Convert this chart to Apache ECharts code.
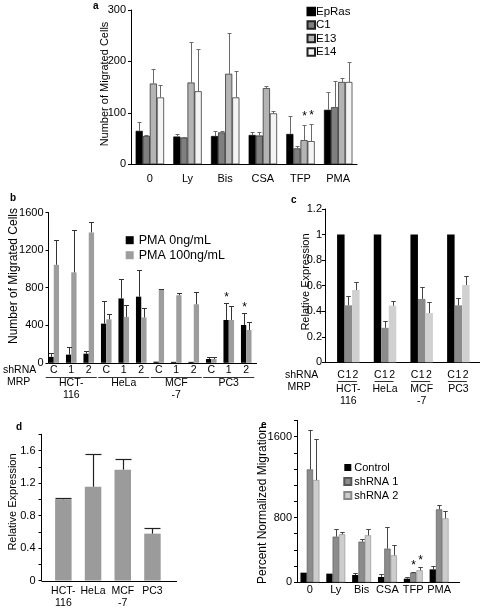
<!DOCTYPE html>
<html><head><meta charset="utf-8">
<script src="https://cdn.jsdelivr.net/npm/echarts@6/dist/echarts.min.js"></script>
<style>html,body{margin:0;padding:0;background:#fff}#c{width:484px;height:610px}</style>
</head><body><div id="c"></div>
<script>
// ---------- Panel a ----------
const aCategories = ['0', 'Ly', 'Bis', 'CSA', 'TFP', 'PMA'];
const aSeriesNames = ['EpRas', 'C1', 'E13', 'E14'];
const aEpRas = [65, 54, 55, 57, 59, 106];
const aC1 = [55, 52, 62, 56, 31, 111];
const aE13 = [157, 159, 176, 148, 47, 160];
const aE14 = [130, 142, 130, 99, 45, 160];
const aErrEpRas = [17, 4, 10, 5, 34, 34];
const aErrC1 = [2, 2, 3, 7, 5, 51];
const aErrE13 = [28, 78, 79, 4, 30, 7];
const aErrE14 = [25, 83, 52, 5, 33, 38];
const aStarE13 = [0, 0, 0, 0, 1, 0];
const aStarE14 = [0, 0, 0, 0, 1, 0];

// ---------- Panel b ----------
const bCellLines = ['HCT-\n116', 'HeLa', 'MCF\n-7', 'PC3'];
const bShRNA = ['C', '1', '2'];
const bSeriesNames = ['PMA 0ng/mL', 'PMA 100ng/mL'];
const bPMA0 = [63, 87, 97, 417, 685, 704, 12, 10, 10, 40, 456, 403];
const bPMA100 = [1043, 963, 1388, 463, 488, 483, 783, 719, 623, 40, 456, 349];
const bErrPMA0 = [41, 80, 25, 244, 212, 284, 0, 0, 0, 25, 177, 131];
const bErrPMA100 = [261, 456, 115, 59, 124, 100, 5, 27, 128, 25, 152, 86];
const bStarPMA0 = [0, 0, 0, 0, 0, 0, 0, 0, 0, 0, 1, 1];

// ---------- Panel c ----------
const cCellLines = ['HCT-\n116', 'HeLa', 'MCF\n-7', 'PC3'];
const cSeriesNames = ['C', '1', '2'];
const cC = [1, 1, 1, 1];
const c1 = [0.446, 0.27, 0.496, 0.446];
const c2 = [0.566, 0.443, 0.386, 0.605];
const cErr1 = [0.074, 0.056, 0.096, 0.06];
const cErr2 = [0.064, 0.04, 0.089, 0.071];

// ---------- Panel d ----------
const dCellLines = ['HCT-\n116', 'HeLa', 'MCF\n-7', 'PC3'];
const dValues = [1.0, 1.155, 1.365, 0.577];
const dErr = [0.01, 0.4, 0.128, 0.075];

// ---------- Panel e ----------
const eCategories = ['0', 'Ly', 'Bis', 'CSA', 'TFP', 'PMA'];
const eSeriesNames = ['Control', 'shRNA 1', 'shRNA 2'];
const eControl = [119, 107, 90, 66, 45, 160];
const eSh1 = [1395, 564, 502, 416, 119, 901];
const eSh2 = [1263, 593, 580, 333, 148, 790];
const eErrControl = [0, 0, 21, 33, 25, 42];
const eErrSh1 = [485, 94, 33, 271, 9, 54];
const eErrSh2 = [502, 24, 74, 128, 45, 95];
const eStarSh1 = [0, 0, 0, 0, 1, 0];
const eStarSh2 = [0, 0, 0, 0, 1, 0];
const eTickValues = [0, 800, 1800];
const eTickLabels = ['0', '800', '1600'];

const FONT = 'Liberation Sans, Arial, sans-serif';
const chart = echarts.init(document.getElementById('c'), null, {renderer: 'canvas'});

function bar(gi, name, data, color, barW, border) {
  return {
    type: 'bar', name, xAxisIndex: gi, yAxisIndex: gi, data, barWidth: barW, barGap: '0%',
    silent: true,
    itemStyle: {color, borderColor: border ? border[0] : color, borderWidth: border ? border[1] : 0}
  };
}
function err(gi, values, errs, stars, sIdx, n, barW, st) {
  const data = values.map((v, i) => [i, v, v + errs[i], errs[i], stars ? stars[i] : 0]);
  return {
    type: 'custom', xAxisIndex: gi, yAxisIndex: gi, data, z: 5, silent: true, clip: false,
    encode: {x: 0, y: [1, 2]},
    renderItem(params, api) {
      const i = api.value(0), v = api.value(1), up = api.value(2), e = api.value(3), s = api.value(4);
      const b = api.coord([i, v]), t = api.coord([i, up]);
      const x = Math.round(b[0] + (sIdx - (n - 1) / 2) * barW) + 0.5;
      const ty = Math.round(t[1]) + 0.5;
      const ch = [];
      if (e > 0) {
        ch.push({type: 'line', shape: {x1: x, y1: b[1], x2: x, y2: ty}, style: {stroke: st.color, lineWidth: st.lw}});
        ch.push({type: 'line', shape: {x1: x - st.cap / 2, y1: ty, x2: x + st.cap / 2, y2: ty}, style: {stroke: st.color, lineWidth: st.lw}});
      }
      if (s) {
        ch.push({type: 'text', x: x, y: ty - st.starGap, style: {text: '*', textAlign: 'center', textVerticalAlign: 'middle', font: '12px ' + FONT, fill: '#000'}});
      }
      return {type: 'group', children: ch};
    }
  };
}

const axLabel = {color: '#000', fontFamily: FONT, fontSize: 11};
function yAx(gi, max, interval, extra) {
  return Object.assign({
    gridIndex: gi, type: 'value', min: 0, max, interval,
    axisLine: {show: true, lineStyle: {color: '#000', width: 1}},
    axisTick: {show: true, length: 3, lineStyle: {color: '#000'}},
    splitLine: {show: false},
    axisLabel: Object.assign({}, axLabel, {margin: 5, formatter: v => String(v)})
  }, extra || {});
}
function xAx(gi, data, extra) {
  return Object.assign({
    gridIndex: gi, type: 'category', data,
    axisLine: {show: false}, axisTick: {show: false},
    axisLabel: Object.assign({}, axLabel, {interval: 0})
  }, extra || {});
}

const bCats = bPMA0.map((_, i) => bCellLines[Math.floor(i / 3)] + ' ' + bShRNA[i % 3]);

const aErrSt = {color: '#6a6a6a', lw: 1, cap: 4, starGap: 9};
const bErrSt = {color: '#333', lw: 1, cap: 5, starGap: 6};
const cErrSt = {color: '#444', lw: 1, cap: 4.5, starGap: 6};
const dErrSt = {color: '#222', lw: 1.2, cap: 16, starGap: 6};
const eErrSt = {color: '#444', lw: 1, cap: 4.5, starGap: 7};

const option = {
  animation: false,
  backgroundColor: '#fff',
  textStyle: {fontFamily: FONT},
  grid: [
    {left: 131, top: 10, width: 226, height: 154.3, outerBoundsMode: 'none'},
    {left: 45, top: 212.5, width: 210, height: 150.3, outerBoundsMode: 'none'},
    {left: 330, top: 209, width: 146.7, height: 153.3, outerBoundsMode: 'none'},
    {left: 48.5, top: 434.3, width: 118.8, height: 146.2, outerBoundsMode: 'none'},
    {left: 297, top: 420.4, width: 155, height: 161.9, outerBoundsMode: 'none'}
  ],
  xAxis: [
    xAx(0, aCategories, {axisLine: {show: true, lineStyle: {color: '#000'}}, axisLabel: Object.assign({}, axLabel, {interval: 0, margin: 9})}),
    xAx(1, bCats, {axisLabel: Object.assign({}, axLabel, {interval: 0, margin: 2, fontSize: 10.5, formatter: (v, i) => bShRNA[i % 3]})}),
    xAx(2, cCellLines, {axisLabel: Object.assign({}, axLabel, {interval: 0, margin: 21.5, fontSize: 10.5, lineHeight: 11.6})}),
    xAx(3, dCellLines, {axisLabel: Object.assign({}, axLabel, {interval: 0, margin: 4.5, fontSize: 10.5, lineHeight: 12.3})}),
    xAx(4, eCategories, {axisLabel: Object.assign({}, axLabel, {interval: 0, margin: 2.5})})
  ],
  yAxis: [
    yAx(0, 300, 100),
    yAx(1, 1600, 400, {offset: -3.5}),
    yAx(2, 1.2, 0.2, {offset: 5, axisLabel: Object.assign({}, axLabel, {margin: 3, formatter: v => String(+v.toFixed(1))})}),
    yAx(3, 1.8, 0.2, {offset: 7, axisLabel: Object.assign({}, axLabel, {margin: 6,
      formatter: v => (Math.round(v * 10) % 4 === 0 ? String(+v.toFixed(1)) : '')})}),
    yAx(4, 2000, 200, {axisLabel: Object.assign({}, axLabel, {margin: 5,
      formatter: v => { const k = eTickValues.indexOf(Math.round(v)); return k >= 0 ? eTickLabels[k] : ''; }})})
  ],
  legend: [
    {data: aSeriesNames, orient: 'vertical', left: 301.5, top: 0.5, itemWidth: 7.5, itemHeight: 7.5, itemGap: 1.5,
      icon: 'rect', selectedMode: false, textStyle: {fontSize: 11.5, color: '#000', fontFamily: FONT, padding: [0, 0, 0, -4]}},
    {data: bSeriesNames, orient: 'vertical', left: 120.7, top: 228.7, itemWidth: 8, itemHeight: 8, itemGap: 2,
      icon: 'rect', selectedMode: false, textStyle: {fontSize: 12.5, color: '#000', fontFamily: FONT}},
    {data: eSeriesNames, orient: 'vertical', left: 338.3, top: 457, itemWidth: 7, itemHeight: 7, itemGap: 3,
      icon: 'rect', selectedMode: false, textStyle: {fontSize: 11, color: '#000', fontFamily: FONT, padding: [0, 0, 0, -2]}}
  ],
  series: [
    bar(0, aSeriesNames[0], aEpRas, '#000000', 7.1, ['#000', 0.7]),
    bar(0, aSeriesNames[1], aC1, '#7f7f7f', 7.1, ['#222', 0.7]),
    bar(0, aSeriesNames[2], aE13, '#b4b4b4', 7.1, ['#222', 0.7]),
    bar(0, aSeriesNames[3], aE14, '#f4f4f4', 7.1, ['#222', 0.7]),
    err(0, aEpRas, aErrEpRas, null, 0, 4, 7.1, aErrSt),
    err(0, aC1, aErrC1, null, 1, 4, 7.1, aErrSt),
    err(0, aE13, aErrE13, aStarE13, 2, 4, 7.1, aErrSt),
    err(0, aE14, aErrE14, aStarE14, 3, 4, 7.1, aErrSt),

    bar(1, bSeriesNames[0], bPMA0, '#000000', 5.3),
    bar(1, bSeriesNames[1], bPMA100, '#9d9d9d', 5.3),
    err(1, bPMA0, bErrPMA0, bStarPMA0, 0, 2, 5.3, bErrSt),
    err(1, bPMA100, bErrPMA100, null, 1, 2, 5.3, bErrSt),

    bar(2, cSeriesNames[0], cC, '#000000', 7.5),
    bar(2, cSeriesNames[1], c1, '#8a8a8a', 7.5),
    bar(2, cSeriesNames[2], c2, '#d0d0d0', 7.5),
    err(2, c1, cErr1, null, 1, 3, 7.5, cErrSt),
    err(2, c2, cErr2, null, 2, 3, 7.5, cErrSt),

    bar(3, 'Relative Expression', dValues, '#9b9b9b', 16.5),
    err(3, dValues, dErr, null, 0, 1, 16.5, dErrSt),

    bar(4, eSeriesNames[0], eControl, '#000000', 6.3),
    bar(4, eSeriesNames[1], eSh1, '#8c8c8c', 6.3, ['#555', 0.6]),
    bar(4, eSeriesNames[2], eSh2, '#cdcdcd', 6.3, ['#888', 0.6]),
    err(4, eControl, eErrControl, null, 0, 3, 6.3, eErrSt),
    err(4, eSh1, eErrSh1, eStarSh1, 1, 3, 6.3, eErrSt),
    err(4, eSh2, eErrSh2, eStarSh2, 2, 3, 6.3, eErrSt)
  ]
};
chart.setOption(option);

// ---------- annotations (text, underlines, axis-line extensions) ----------
function txt(text, x, y, size, opts) {
  return Object.assign({type: 'text', x, y, silent: true,
    style: Object.assign({text, font: size + 'px ' + FONT, fill: '#000', textAlign: 'left', textVerticalAlign: 'middle'}, (opts && opts.style) || {})});
}
function hline(x1, x2, y, w) {
  const yy = Math.round(y) + 0.5;
  return {type: 'line', silent: true, shape: {x1, y1: yy, x2, y2: yy}, style: {stroke: '#000', lineWidth: w || 1}};
}
function vtitle(text, x, y, size) {
  return {type: 'text', x, y, rotation: Math.PI / 2, silent: true,
    style: {text, font: size + 'px ' + FONT, fill: '#000', textAlign: 'center', textVerticalAlign: 'middle'}};
}
const g = [];
// panel letters
g.push(txt('a', 93, 6, 10, {style: {font: 'bold 10px ' + FONT}}));
g.push(txt('b', 10, 198, 10, {style: {font: 'bold 10px ' + FONT}}));
g.push(txt('c', 291, 200, 10, {style: {font: 'bold 10px ' + FONT}}));
g.push(txt('d', 16, 427, 10, {style: {font: 'bold 10px ' + FONT}}));
g.push(txt('e', 261, 425, 10, {style: {font: 'bold 10px ' + FONT}}));
// axis titles
g.push(vtitle('Number of Migrated Cells', 105, 84, 11));
g.push(vtitle('Number of Migrated Cells', 14, 276, 12));
g.push(vtitle('Relative Expression', 306, 282, 11));
g.push(vtitle('Relative Expression', 12.5, 502, 11));
g.push(vtitle('Percent Normalized Migration', 263, 505, 12));
// shRNA / MRP
g.push(txt('shRNA', 3, 370, 10.5));
g.push(txt('MRP', 7, 382, 10.5));
g.push(txt('shRNA', 285, 375, 10.5));
g.push(txt('MRP', 287.5, 387, 10.5));
// x-axis lines
g.push(hline(48.5, 257, 362.8));
g.push(hline(325, 480, 362.3));
g.push(hline(41.5, 177, 580.5));
g.push(hline(296.5, 460, 582.3));
// panel b group labels & underlines
for (let k = 0; k < bCellLines.length; k++) {
  const x0 = chart.convertToPixel({xAxisIndex: 1}, k * 3);
  const x1 = chart.convertToPixel({xAxisIndex: 1}, k * 3 + 1);
  const x2 = chart.convertToPixel({xAxisIndex: 1}, k * 3 + 2);
  g.push(hline(x0 - 8, x2 + 8, 376.5, 0.8));
  g.push({type: 'text', x: x1, y: 377.5, silent: true,
    style: {text: bCellLines[k], font: '10.5px ' + FONT, fill: '#000', textAlign: 'center', textVerticalAlign: 'top', lineHeight: 11.8}});
}
// panel c shRNA labels & underlines
for (let k = 0; k < cCellLines.length; k++) {
  const xc = chart.convertToPixel({xAxisIndex: 2}, k);
  for (let s = 0; s < 3; s++) {
    g.push({type: 'text', x: xc + (s - 1) * 7.2, y: 375, silent: true,
      style: {text: cSeriesNames[s], font: '10.5px ' + FONT, fill: '#000', textAlign: 'center', textVerticalAlign: 'middle'}});
  }
  g.push(hline(xc - 10.5, xc + 8.5, 380.5, 0.8));
}
chart.setOption({graphic: g});
</script></body></html>
